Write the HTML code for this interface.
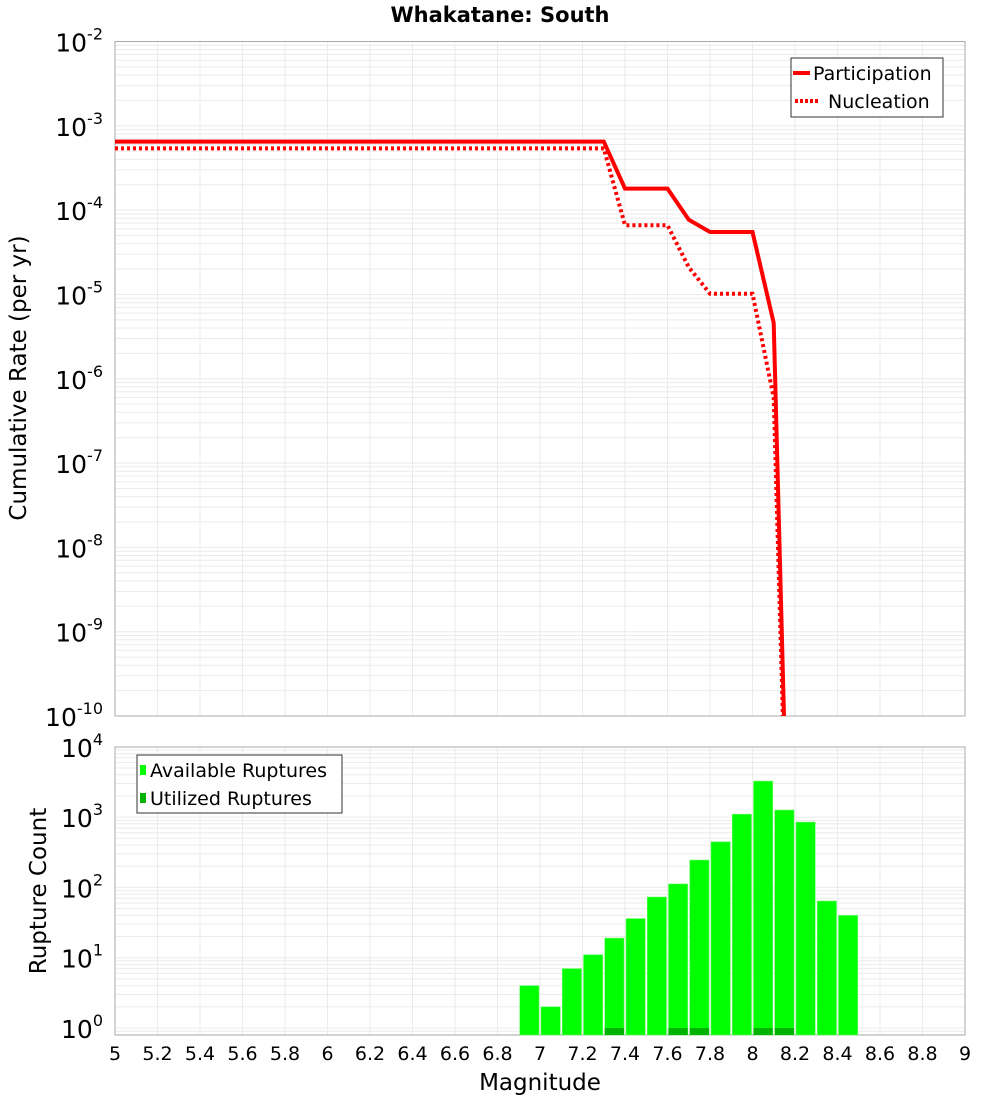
<!DOCTYPE html>
<html><head><meta charset="utf-8"><style>
body{margin:0;background:#fff;font-family:"DejaVu Sans","Liberation Sans",sans-serif}
svg text{font-family:"DejaVu Sans","Liberation Sans",sans-serif}
</style></head><body>
<svg id="c" width="1000" height="1100" xmlns="http://www.w3.org/2000/svg"></svg>
<script>
const partMag=[5.0,7.3,7.4,7.6,7.7,7.8,8.0,8.1,8.2];
const partRate=[6.5e-4,6.5e-4,1.8e-4,1.8e-4,7.7e-5,5.5e-5,5.5e-5,4.6e-6,1e-15];
const nuclMag=[5.0,7.3,7.4,7.6,7.7,7.8,8.0,8.1,8.2];
const nuclRate=[5.4e-4,5.4e-4,6.6e-5,6.6e-5,2.1e-5,1.02e-5,1.02e-5,6e-7,1e-15];
const binStart=[6.9,7.0,7.1,7.2,7.3,7.4,7.5,7.6,7.7,7.8,7.9,8.0,8.1,8.2,8.3,8.4];
const availCount=[4,2,7,11,19,36,73,112,245,445,1100,3250,1260,850,64,40];
const utilCount=[0,0,0,0,1,0,0,1,1,0,0,1,1,0,0,0];
const xTicks=[5,5.2,5.4,5.6,5.8,6,6.2,6.4,6.6,6.8,7,7.2,7.4,7.6,7.8,8,8.2,8.4,8.6,8.8,9];
const topExp=[-2,-3,-4,-5,-6,-7,-8,-9,-10];
const botExp=[4,3,2,1,0];

const NS='http://www.w3.org/2000/svg';
const svg=document.getElementById('c');
function el(t,a,p){const e=document.createElementNS(NS,t);for(const k in a)e.setAttribute(k,a[k]);(p||svg).appendChild(e);return e;}
const X0=115,X1=965;
const x=m=>X0+(m-5)/(9-5)*(X1-X0);
const T0=41.5,T1=716;
const yT=v=>T0+(-2-Math.log10(v))/8*(T1-T0);
const B0=747,B1=1035,BD=70.3,Bzero=1028;
const yB=v=>Bzero-Math.log10(v)*BD;

function frame(top,bot,yf,lo,hi,name){
  const g=el('g',{});
  for(let e=lo;e<hi;e++)for(let k=1;k<10;k++){const yy=yf(k*Math.pow(10,e));if(yy<top-0.5||yy>bot+0.5)continue;el('line',{x1:X0,x2:X1,y1:yy,y2:yy,stroke:'#ebebeb','stroke-width':1},g);}
  xTicks.forEach(t=>el('line',{x1:x(t),x2:x(t),y1:top,y2:bot,stroke:'#ebebeb','stroke-width':1},g));
  const r=el('rect',{x:X0,y:top,width:X1-X0,height:bot-top,fill:'none',stroke:'#aaa','stroke-width':1});
  
}
frame(T0,T1,yT,-10,-2,'top-plot');
frame(B0,B1,yB,-1,4,'bottom-plot');

const title=el('text',{x:500,y:22,'text-anchor':'middle','font-size':21,'font-weight':'bold'});title.textContent='Whakatane: South';


function ylab(e,yy,name){
  const t=el('text',{x:103,y:yy+10,'text-anchor':'end','font-size':25});
  
  t.textContent='10';const s=el('tspan',{dy:-12,'font-size':16},t);s.textContent=String(e);
}
topExp.forEach(e=>ylab(e,yT(Math.pow(10,e)),'top-y-tick'));
botExp.forEach(e=>ylab(e,yB(Math.pow(10,e)),'bottom-y-tick'));
xTicks.forEach(t=>{const tx=el('text',{x:x(t),y:1060,'text-anchor':'middle','font-size':19});tx.textContent=String(t);});

let t=el('text',{x:0,y:0,'text-anchor':'middle','font-size':23,transform:'translate(26,378) rotate(-90)'});t.textContent='Cumulative Rate (per yr)';

t=el('text',{x:0,y:0,'text-anchor':'middle','font-size':23,transform:'translate(46,891) rotate(-90)'});t.textContent='Rupture Count';

t=el('text',{x:540,y:1090,'text-anchor':'middle','font-size':23});t.textContent='Magnitude';


// top lines
el('clipPath',{id:'ct'},el('defs',{}));
el('rect',{x:X0,y:T0,width:X1-X0,height:T1-T0},document.getElementById('ct'));
function line(ms,vs,dash,name){
  const d=ms.map((m,i)=>(i?'L':'M')+x(m).toFixed(1)+','+yT(vs[i]).toFixed(1)).join(' ');
  const p=el('path',{d:d,fill:'none',stroke:'#ff0000','stroke-width':4,'clip-path':'url(#ct)'});
  if(dash)p.setAttribute('stroke-dasharray','3,3');
  
}
line(nuclMag,nuclRate,true,'nucleation-line');
line(partMag,partRate,false,'participation-line');

// bars
const bw=x(5.1)-x(5);
binStart.forEach((b,i)=>{
  const yy=yB(availCount[i]);
  const r=el('rect',{x:x(b)+1,y:yy,width:bw-2,height:B1-yy,fill:'#00ff00',stroke:'#66ff66','stroke-width':0.6});
  
  if(utilCount[i]>0){const yu=yB(utilCount[i]);
    const u=el('rect',{x:x(b)+1,y:yu,width:bw-2,height:B1-yu,fill:'#00b300'});
    }
});

// legends
let lg=el('g',{});
el('rect',{x:791,y:58,width:152,height:59,fill:'#fff',stroke:'#333','stroke-width':1},lg);
el('line',{x1:793,x2:810,y1:73,y2:73,stroke:'#f00','stroke-width':4},lg);
el('line',{x1:795,x2:820,y1:101,y2:101,stroke:'#f00','stroke-width':4,'stroke-dasharray':'3,2'},lg);
t=el('text',{x:813,y:80,'font-size':19},lg);t.textContent='Participation';
t=el('text',{x:828,y:108,'font-size':19},lg);t.textContent='Nucleation';
lg=el('g',{});
el('rect',{x:137,y:755,width:205,height:58,fill:'#fff',stroke:'#333','stroke-width':1},lg);
el('rect',{x:140,y:765,width:6,height:10,fill:'#00ff00'},lg);
el('rect',{x:140,y:793,width:6,height:10,fill:'#00b300'},lg);
t=el('text',{x:150,y:777,'font-size':19},lg);t.textContent='Available Ruptures';
t=el('text',{x:150,y:805,'font-size':19},lg);t.textContent='Utilized Ruptures';
</script>
</body></html>
